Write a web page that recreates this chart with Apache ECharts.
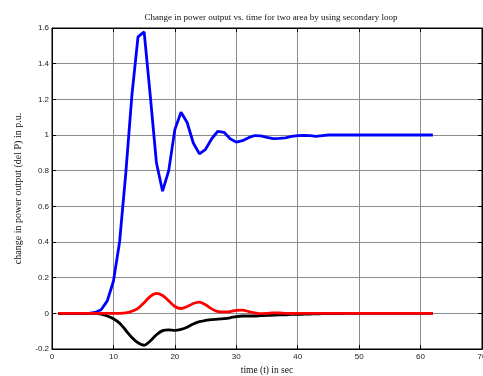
<!DOCTYPE html>
<html>
<head>
<meta charset="utf-8">
<script src="https://cdn.jsdelivr.net/npm/echarts@6/dist/echarts.min.js"></script>
<style>html,body{margin:0;padding:0;background:#fff}#c{width:483px;height:376px}</style>
</head>
<body>
<div id="c"></div>
<script>
var times = [1,2,3,4,5,6,7,8,9,10,11,12,13,14,15,16,17,18,19,20,21,22,23,24,25,26,27,28,29,30,31,32,33,34,35,36,37,38,39,40,41,42,43,44,45,46,47,48,49,50,51,52,53,54,55,56,57,58,59,60,61,62];
var bluePower = [0,0,0,0,0,0,0.005,0.02,0.07,0.18,0.40,0.78,1.22,1.55,1.578,1.22,0.844,0.685,0.80,1.03,1.128,1.07,0.955,0.894,0.92,0.979,1.021,1.015,0.979,0.96,0.968,0.985,0.997,0.995,0.987,0.98,0.981,0.984,0.992,0.997,0.998,0.997,0.992,0.996,1.0,1.0,1.0,1.0,1.0,1.0,1.0,1.0,1.0,1.0,1.0,1.0,1.0,1.0,1.0,1.0,1.0,1.0];
var redPower = [0,0,0,0,0,0,0,0,0,0,0,0.002,0.012,0.028,0.06,0.095,0.112,0.10,0.07,0.038,0.027,0.038,0.055,0.063,0.048,0.025,0.01,0.008,0.01,0.017,0.018,0.01,0.003,-0.002,0,0.003,0.002,0,-0.001,0,0,0,0,0,0,0,0,0,0,0,0,0,0,0,0,0,0,0,0,0,0,0];
var blackPower = [0,0,0,0,0,0,0,-0.004,-0.015,-0.03,-0.055,-0.095,-0.135,-0.165,-0.179,-0.155,-0.12,-0.097,-0.093,-0.095,-0.09,-0.078,-0.06,-0.047,-0.04,-0.035,-0.033,-0.03,-0.025,-0.018,-0.015,-0.015,-0.015,-0.013,-0.012,-0.01,-0.008,-0.008,-0.006,-0.006,-0.005,-0.004,-0.003,-0.002,-0.001,-0.001,-0.001,0,0,0,0,0,0,0,0,0,0,0,0,0,0,0];
var titleText = 'Change in power output vs. time for two area by using secondary loop';
var xName = 'time (t) in sec';
var yName = 'change in power output (del P) in p.u.';

function pairs(vals){ return times.map(function(t,i){ return [t, vals[i]]; }); }

var chart = echarts.init(document.getElementById('c'), null, {renderer:'canvas'});
var gridColor = '#8c8c8c';
var tickFont = {fontFamily:'Liberation Sans, Arial, sans-serif', fontSize:8, color:'#222'};
chart.setOption({
  animation:false,
  backgroundColor:'#fff',
  title:{text:titleText, left:266, top:8, textAlign:'center',
    textStyle:{fontFamily:'Liberation Serif, Times New Roman, serif', fontSize:9, fontWeight:'normal', color:'#111'}},
  grid:{left:52, right:1, top:28, bottom:27, show:true, borderColor:'#000', borderWidth:1, containLabel:false, outerBoundsMode:'none'},
  xAxis:[{type:'value', min:0, max:70, interval:10, position:'bottom',
    name:xName, nameLocation:'middle', nameGap:16,
    nameTextStyle:{fontFamily:'Liberation Serif, Times New Roman, serif', fontSize:9.5, color:'#111'},
    axisLine:{show:true, onZero:false, lineStyle:{color:'#000'}},
    axisTick:{show:true, inside:true, length:4, lineStyle:{color:'#000'}},
    axisLabel:Object.assign({margin:4}, tickFont),
    splitLine:{show:true, lineStyle:{color:gridColor, width:1}}},
   {type:'value', min:0, max:70, interval:10, position:'top',
    axisLine:{show:true, onZero:false, lineStyle:{color:'#000'}},
    axisTick:{show:true, inside:true, length:4, lineStyle:{color:'#000'}},
    axisLabel:{show:false}, splitLine:{show:false}}],
  yAxis:[{type:'value', min:-0.2, max:1.6, interval:0.2, position:'left',
    name:yName, nameLocation:'middle', nameGap:29, nameRotate:90,
    nameTextStyle:{fontFamily:'Liberation Serif, Times New Roman, serif', fontSize:10, color:'#111'},
    axisLine:{show:true, onZero:false, lineStyle:{color:'#000'}},
    axisTick:{show:true, inside:true, length:4, lineStyle:{color:'#000'}},
    axisLabel:Object.assign({margin:3, formatter:function(v){return String(parseFloat(v.toFixed(1)));}}, tickFont),
    splitLine:{show:true, lineStyle:{color:gridColor, width:1}}},
   {type:'value', min:-0.2, max:1.6, interval:0.2, position:'right',
    axisLine:{show:true, onZero:false, lineStyle:{color:'#000'}},
    axisTick:{show:true, inside:true, length:4, lineStyle:{color:'#000'}},
    axisLabel:{show:false}, splitLine:{show:false}}],
  series:[
    {type:'line', data:pairs(bluePower), showSymbol:false, lineStyle:{color:'#0000ff', width:2.8}, itemStyle:{color:'#0000ff'}},
    {type:'line', data:pairs(blackPower), showSymbol:false, smooth:0.3, lineStyle:{color:'#000000', width:2.8}, itemStyle:{color:'#000'}},
    {type:'line', data:pairs(redPower), showSymbol:false, smooth:0.3, lineStyle:{color:'#ff0000', width:2.8}, itemStyle:{color:'#ff0000'}}
  ]
});
</script>
</body>
</html>
